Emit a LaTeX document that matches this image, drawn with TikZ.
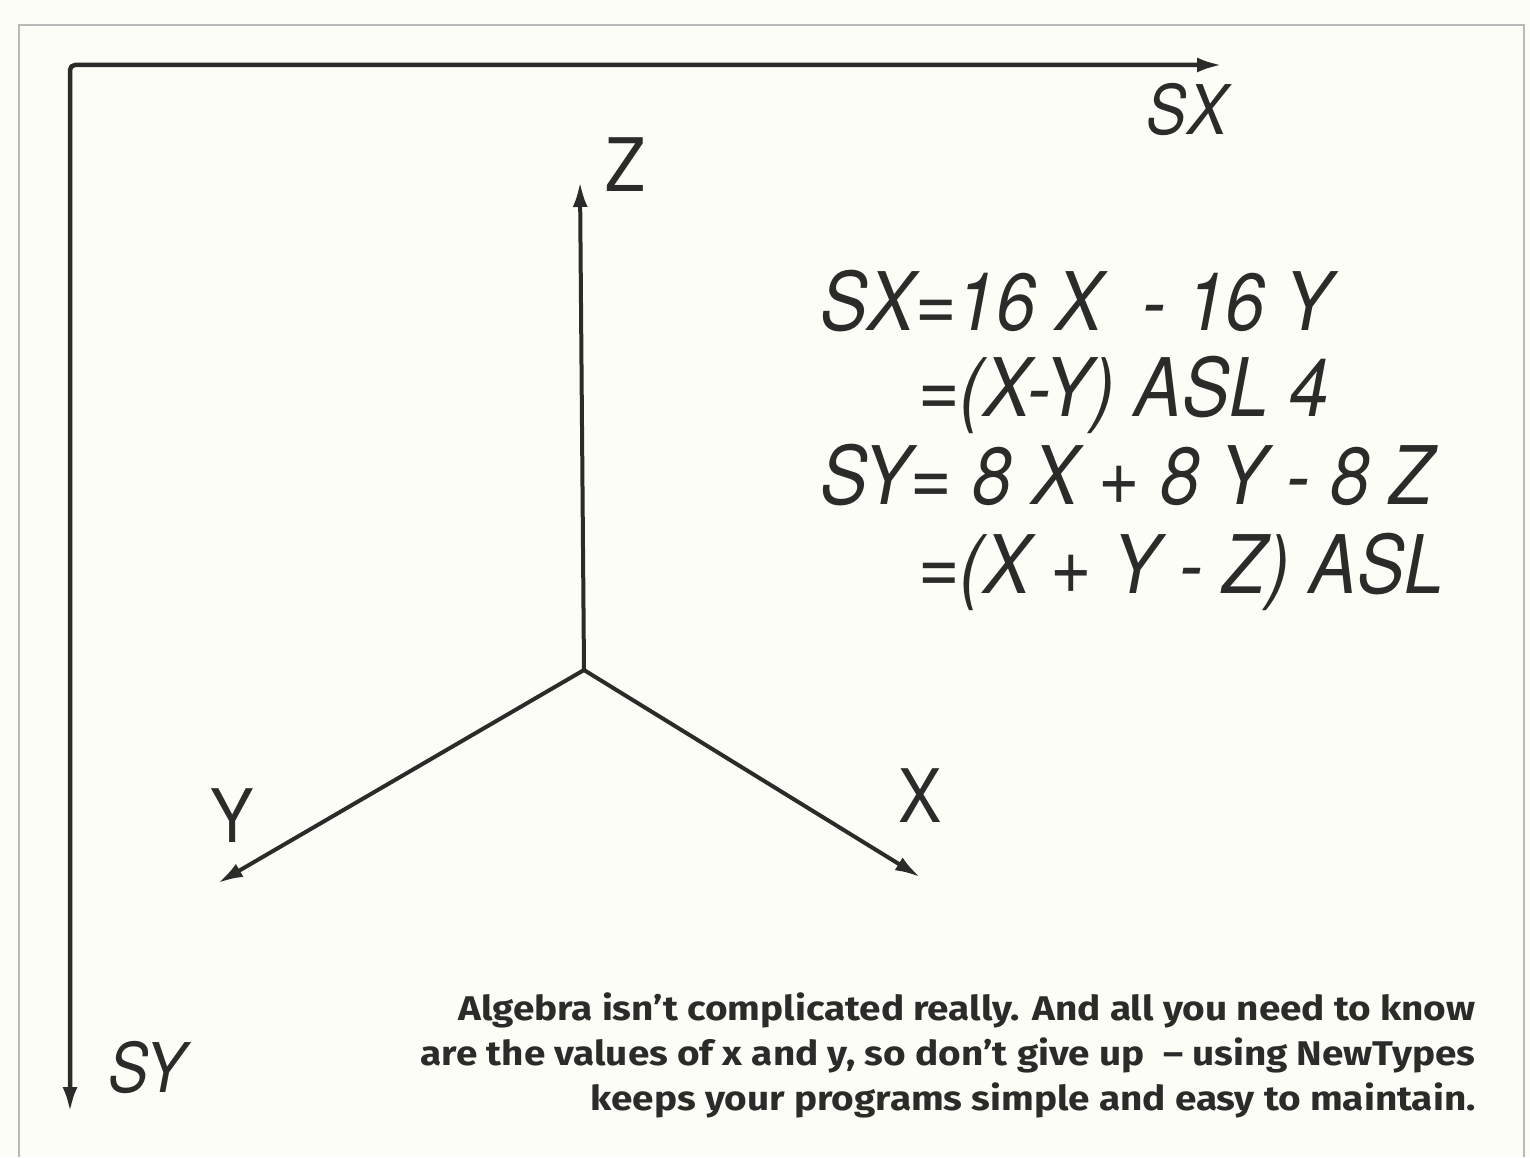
\documentclass[tikz,border=0pt]{standalone}
\usepackage{fontspec}
\usepackage{xcolor}
\usetikzlibrary{arrows.meta,positioning}
\newfontfamily\eqfont[FakeStretch=0.88]{TeX Gyre Heros}
\newfontfamily\capfont[FakeStretch=1.13]{Fira Sans}
\definecolor{paper}{HTML}{FDFDF8}
\definecolor{ink}{HTML}{2B2B29}

\begin{document}
\begin{tikzpicture}[
  x=0.2mm, y=-0.2mm,
  axis/.style={line width=0.9mm, draw=ink, line join=round, rounded corners=1mm,
    {Latex[length=5mm,width=3mm]}-{Latex[length=5mm,width=3mm]}},
  proj/.style={line width=0.8mm, draw=ink, -{Latex[length=5mm,width=3mm]}},
  axlabel/.style={inner sep=0pt, text=ink, font=\eqfont\fontsize{42}{42}\selectfont},
  scrlabel/.style={inner sep=0pt, text=ink, font=\eqfont\itshape\fontsize{39}{39}\selectfont},
  eqline/.style={inner sep=0pt, anchor=base west, text=ink, font=\eqfont\itshape\fontsize{46}{46}\selectfont},
  caption/.style={inner sep=0pt, align=right, text=ink,
    font=\capfont\bfseries\fontsize{19.5}{25.6}\selectfont}
]
% paper and outer frame
\fill[paper] (0,0) rectangle (1530,1157);
\draw[gray!55, line width=0.4mm] (19,1157) -- (19,25) -- (1524,25) -- (1524,1157);

% screen axes
\coordinate (corner) at (70,65);
\coordinate (sxtip) at (1222,65);
\coordinate (sytip) at (70,1112);
\draw[axis] (sxtip) -- (corner) -- (sytip);
\node[scrlabel] (sx) at (1187,110) {SX};
\node[scrlabel] (sy) at (147,1068) {SY};

% world axes
\coordinate (origin) at (584,670);
\coordinate (ztip) at (580,182);
\coordinate (ytip) at (218,883);
\coordinate (xtip) at (920,877);
\draw[proj] (origin) -- (ztip);
\draw[proj] (origin) -- (ytip);
\draw[proj] (origin) -- (xtip);
\node[axlabel] (zlab) at (625,165) {Z};
\node[axlabel] (ylab) at (232,816) {Y};
\node[axlabel] (xlab) at (920,796) {X};

% projection formulae
\node[eqline] (eq1) at (820,331) {SX=16 X\ \ - 16 Y};
\node[eqline] (eq2) at (918,417) {=(X-Y) ASL 4};
\node[eqline] (eq3) at (820,505) {SY= 8 X + 8 Y - 8 Z};
\node[eqline] (eq4) at (918,593) {=(X + Y - Z) ASL};

\node[caption, anchor=east] (note) at (1476,1055)
  {Algebra isn’t complicated really. And all you need to know\\
   are the values of x and y, so don’t give up\ \ – using NewTypes\\
   keeps your programs simple and easy to maintain.};

\end{tikzpicture}
\end{document}
